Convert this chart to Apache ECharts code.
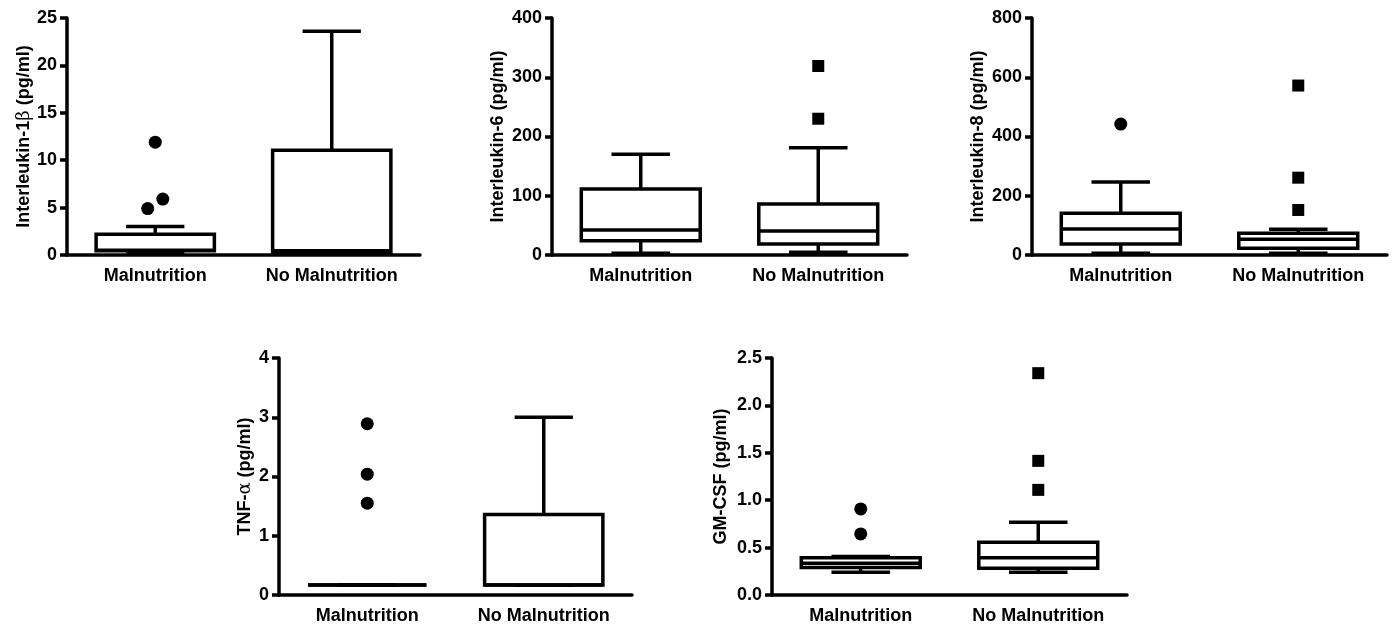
<!DOCTYPE html>
<html>
<head>
<meta charset="utf-8">
<script src="https://cdn.jsdelivr.net/npm/echarts@6/dist/echarts.min.js"></script>
<style>
  html, body { margin: 0; padding: 0; background: #fff; }
  #chart { width: 1395px; height: 627px; }
</style>
</head>
<body>
<div id="chart"></div>
<script>
// ---------- DATA ----------
const categories = ['Malnutrition', 'No Malnutrition'];

// box stats: [min, Q1, median, Q3, max] for [Malnutrition, No Malnutrition]
const il1bBoxes = [[0.2, 0.45, 0.5, 2.2, 3.0], [0.15, 0.3, 0.45, 11.05, 23.6]];
const il1bMalOutliers = [11.9, 5.9, 4.9];
const il1bNoMalOutliers = [];
const il1bTicks = [0, 5, 10, 15, 20, 25];

const il6Boxes = [[2.8, 24, 42, 111.5, 170], [4.5, 18.6, 40.5, 86, 181]];
const il6MalOutliers = [];
const il6NoMalOutliers = [319, 230];
const il6Ticks = [0, 100, 200, 300, 400];

const il8Boxes = [[5.6, 37, 88, 141, 246], [5.6, 22.5, 53, 73, 87]];
const il8MalOutliers = [442];
const il8NoMalOutliers = [572, 261, 152];
const il8Ticks = [0, 200, 400, 600, 800];

const tnfBoxes = [[0.17, 0.17, 0.17, 0.17, 0.17], [0.17, 0.17, 0.17, 1.36, 3.0]];
const tnfMalOutliers = [2.89, 2.04, 1.55];
const tnfNoMalOutliers = [];
const tnfTicks = [0, 1, 2, 3, 4];

const gmcsfBoxes = [[0.239, 0.289, 0.335, 0.394, 0.405], [0.239, 0.282, 0.394, 0.556, 0.768]];
const gmcsfMalOutliers = [0.908, 0.644];
const gmcsfNoMalOutliers = [2.34, 1.415, 1.109];
const gmcsfTicks = [0, 0.5, 1.0, 1.5, 2.0, 2.5];

// ---------- LAYOUT / STYLE ----------
const FONT = '"Liberation Sans", Arial, sans-serif';
const panels = [
  { name: 'Interleukin-1{g|β} (pg/ml)', boxes: il1bBoxes, out: [il1bMalOutliers, il1bNoMalOutliers], ticks: il1bTicks,
    grid: { left: 67, top: 18, width: 353, height: 237 }, nameGap: 33, dec: 0 },
  { name: 'Interleukin-6 (pg/ml)', boxes: il6Boxes, out: [il6MalOutliers, il6NoMalOutliers], ticks: il6Ticks,
    grid: { left: 552, top: 18, width: 355, height: 237 }, nameGap: 45, dec: 0 },
  { name: 'Interleukin-8 (pg/ml)', boxes: il8Boxes, out: [il8MalOutliers, il8NoMalOutliers], ticks: il8Ticks,
    grid: { left: 1032, top: 18, width: 355, height: 237 }, nameGap: 45, dec: 0 },
  { name: 'TNF-{g|α} (pg/ml)', boxes: tnfBoxes, out: [tnfMalOutliers, tnfNoMalOutliers], ticks: tnfTicks,
    grid: { left: 279, top: 358, width: 353, height: 237 }, nameGap: 25, dec: 0 },
  { name: 'GM-CSF (pg/ml)', boxes: gmcsfBoxes, out: [gmcsfMalOutliers, gmcsfNoMalOutliers], ticks: gmcsfTicks,
    grid: { left: 772, top: 358, width: 355, height: 237 }, nameGap: 42, dec: 1 }
];

const LW = 3.5;
const SYM = 13;

function boxRender(params, api) {
  const cat = api.value(0);
  const v = [api.value(1), api.value(2), api.value(3), api.value(4), api.value(5)];
  const band = api.size([1, 0])[0];
  const bw = band * 0.67, cw = band * 0.33;
  const x = api.coord([cat, v[0]])[0];
  const y = v.map(val => api.coord([cat, val])[1]);
  const st = { stroke: '#000', lineWidth: LW, fill: null };
  const children = [
    { type: 'line', shape: { x1: x, y1: y[3], x2: x, y2: y[4] }, style: st },
    { type: 'line', shape: { x1: x, y1: y[1], x2: x, y2: y[0] }, style: st },
    { type: 'line', shape: { x1: x - cw / 2, y1: y[4], x2: x + cw / 2, y2: y[4] }, style: st },
    { type: 'line', shape: { x1: x - cw / 2, y1: y[0], x2: x + cw / 2, y2: y[0] }, style: st },
    { type: 'rect', shape: { x: x - bw / 2, y: y[3], width: bw, height: Math.max(y[1] - y[3], 0) },
      style: { stroke: '#000', lineWidth: LW, fill: '#fff' } },
    { type: 'line', shape: { x1: x - bw / 2, y1: y[2], x2: x + bw / 2, y2: y[2] }, style: st }
  ];
  return { type: 'group', children: children };
}

function makeOutlierRender(outArrays) {
  return function (params, api) {
    const cat = api.value(0);
    const val = api.value(1);
    const p = api.coord([cat, val]);
    // spread overlapping points horizontally (Prism-like)
    let dx = 0;
    const others = outArrays[cat];
    for (const o of others) {
      if (o === val) continue;
      const py = api.coord([cat, o])[1];
      if (Math.abs(py - p[1]) < SYM) {
        dx = val > o ? SYM * 0.58 : -SYM * 0.58;
      }
    }
    const cx = p[0] + dx, cy = p[1];
    if (cat === 0) {
      return { type: 'circle', shape: { cx: cx, cy: cy, r: SYM / 2 }, style: { fill: '#000' } };
    }
    const s = SYM - 1;
    return { type: 'rect', shape: { x: cx - s / 2, y: cy - s / 2, width: s, height: s }, style: { fill: '#000' } };
  };
}

const option = { animation: false, backgroundColor: '#fff', grid: [], xAxis: [], yAxis: [], series: [] };

panels.forEach((pn, i) => {
  option.grid.push(pn.grid);
  option.xAxis.push({
    type: 'category', gridIndex: i, data: categories, boundaryGap: true,
    axisLine: { lineStyle: { color: '#000', width: LW } },
    axisTick: { alignWithLabel: true, interval: 0, length: 9, lineStyle: { color: '#000', width: LW } },
    axisLabel: { color: '#000', fontFamily: FONT, fontWeight: 'bold', fontSize: 18, margin: 12, interval: 0 },
    splitLine: { show: false }
  });
  const t = pn.ticks;
  option.yAxis.push({
    type: 'value', gridIndex: i, min: t[0], max: t[t.length - 1], interval: t[1] - t[0],
    name: pn.name, nameLocation: 'middle', nameGap: pn.nameGap, nameRotate: 90,
    nameTextStyle: { color: '#000', fontFamily: FONT, fontWeight: 'bold', fontSize: 18,
      rich: { g: { color: '#000', fontFamily: '"DejaVu Serif", serif', fontWeight: 'normal', fontSize: 18 } } },
    axisLine: { show: true, lineStyle: { color: '#000', width: LW } },
    axisTick: { show: true, length: 7, lineStyle: { color: '#000', width: LW } },
    axisLabel: { color: '#000', fontFamily: FONT, fontWeight: 'bold', fontSize: 18, margin: 10,
      formatter: (v) => v.toFixed(pn.dec) },
    splitLine: { show: false }
  });
  option.series.push({
    type: 'custom', xAxisIndex: i, yAxisIndex: i,
    data: pn.boxes.map((b, c) => [c].concat(b)),
    encode: { x: 0, y: [1, 2, 3, 4, 5] },
    renderItem: boxRender, z: 2
  });
  const pts = [];
  pn.out.forEach((arr, c) => arr.forEach(v => pts.push([c, v])));
  option.series.push({
    type: 'custom', xAxisIndex: i, yAxisIndex: i,
    data: pts, encode: { x: 0, y: 1 },
    renderItem: makeOutlierRender(pn.out), z: 3
  });
});

const chart = echarts.init(document.getElementById('chart'), null, { renderer: 'canvas' });
chart.setOption(option);
</script>
</body>
</html>
